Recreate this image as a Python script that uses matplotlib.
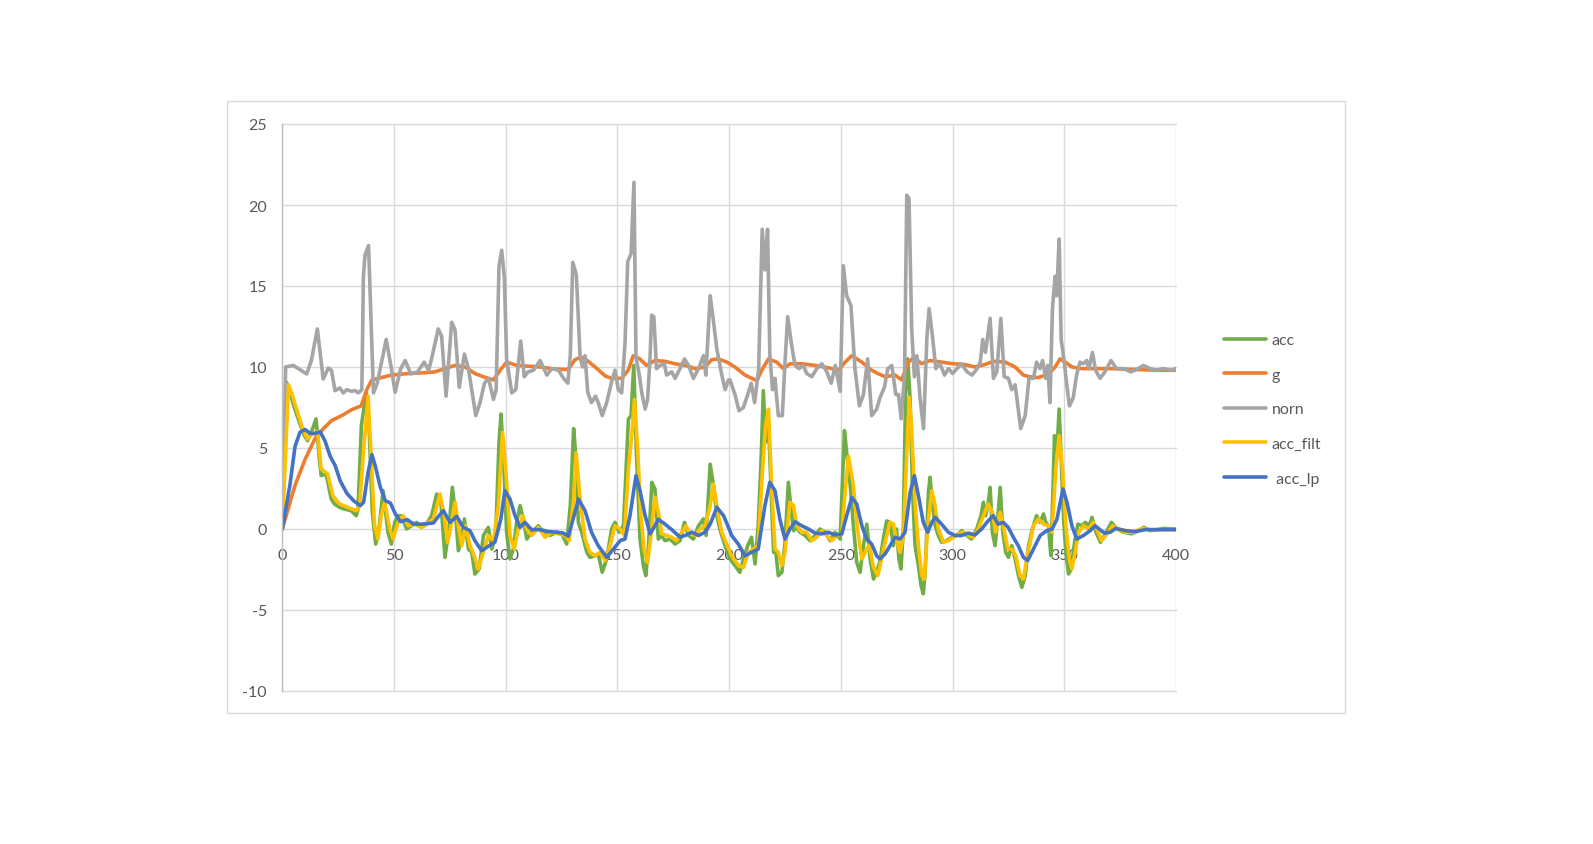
import matplotlib
matplotlib.use("Agg")
import matplotlib.pyplot as plt
from matplotlib.patches import Rectangle
import numpy as np

# Data

acc_pts = [
    (0, 0), (1.9, 9.05), (3.9, 8.2), (5.4, 7.5), (7.6, 6.6), (9.9, 5.76), (11.3, 5.45), (13.6, 6.2),
    (15.1, 6.8), (16.6, 4.3), (17.4, 3.3), (19.6, 3.4), (21.9, 1.85), (23.4, 1.54), (25.6, 1.34),
    (27.8, 1.23), (30.8, 1.13), (33.1, 0.82), (33.9, 1.23), (35.4, 6.4), (37.6, 8.44), (38.8, 6.4),
    (40.3, 1.03), (41.8, -0.93), (43.3, 0.0), (45.1, 2.37), (47.3, -0.2), (48.8, -0.93), (50.3, 0.4),
    (51.8, 0.82), (53.3, 0.82), (55.6, 0.0), (57.8, 0.2), (60.1, 0.41), (62.3, 0.1), (64.5, 0.3),
    (66.8, 0.82), (69.1, 2.16), (71, 1.65), (72.8, -1.75), (74.6, 0.0), (76.1, 2.57), (77.6, 0.82),
    (78.8, -1.34), (80.3, -0.62), (81.5, 0.62), (83.3, -1.24), (84.8, -1.44), (86.2, -2.78),
    (88.1, -2.47), (90, -0.4), (92.2, 0.1), (93.8, -1.24), (95.5, -0.4), (97, 5.35), (97.9, 7.1),
    (99.1, 4.1), (100.4, -0.2), (101.9, -1.85), (103.4, -1.24), (104.9, 0.41), (106.4, 1.44),
    (107.9, 0.62), (109.4, -0.62), (111.6, -0.2), (114.6, 0.2), (116.9, -0.2), (119.8, -0.4),
    (122.8, -0.2), (125.1, -0.3), (127.3, -0.93), (128.9, 1.44), (130.4, 6.2), (131.2, 4.8),
    (132.5, 0.41), (134, -0.2), (136.3, -1.44), (137.7, -1.75), (140, -1.65), (141.4, -1.54),
    (143.2, -2.67), (145.2, -1.85), (147.4, 0.0), (148.9, 0.41), (150.7, -0.2), (152.7, 0.2),
    (154.9, 6.79), (156.1, 7.0), (157.3, 10.1), (158.6, 4.3), (160.1, -0.62), (161.6, -2.26),
    (162.7, -2.88), (163.9, -1.03), (165.4, 2.88), (166.8, 2.47), (168.3, -0.62), (169.8, -0.4),
    (171.3, -0.72), (173.5, -0.62), (175.8, -0.93), (178, -0.72), (180, 0.41), (181.8, -0.4),
    (184, -0.62), (186.3, 0.2), (188.5, 0.62), (189.7, -0.4), (191.5, 4.0), (193, 2.67), (194.5, 0.82),
    (196, -0.1), (198.2, -1.03), (200.4, -1.85), (202.6, -2.26), (204.8, -2.67), (206.4, -1.85),
    (208.3, -1.03), (210, -0.51), (211.6, -2.16), (213, 0.2), (214.3, 4.3), (215.3, 8.54),
    (216.3, 5.35), (217.6, 6.6), (218.8, 2.26), (219.9, -1.44), (220.9, -1.44), (222, -2.88),
    (223.6, -2.67), (225, -0.82), (226.5, 2.88), (227.7, 1.23), (228.8, -0.1), (230.2, 0.1),
    (231.7, -0.2), (234, -0.4), (236.2, -0.72), (238.5, -0.4), (240.7, 0.0), (243, -0.2),
    (245.2, -0.72), (247.4, -0.2), (249.7, -0.62), (251.6, 6.07), (252.6, 4.73), (254.2, 2.67),
    (255.6, 0.2), (257.1, -2.06), (258.6, -2.67), (260.1, -1.03), (261.6, 0.3), (263.1, -1.85),
    (264.6, -3.09), (266, -2.67), (267.5, -2.0), (269, -0.62), (270.5, 0.5), (272, 0.41),
    (273.5, -1.03), (274.9, 0.0), (276, -1.85), (276.9, -2.47), (277.9, -0.2), (279, 8.44),
    (279.9, 10.5), (281, 8.0), (282, 2.67), (283.2, -1.03), (284.7, -2.26), (285.9, -3.5),
    (286.9, -4.0), (287.7, -2.67), (289.2, 2.26), (289.9, 3.19), (290.9, 1.65), (292.2, 0.2),
    (293.6, -0.4), (295.1, -0.82), (297.3, -0.72), (299.6, -0.51), (301.8, -0.4), (304.1, -0.1),
    (306.3, -0.4), (308.5, -0.62), (310.8, 0.0), (312.7, 0.82), (313.8, 1.65), (314.8, 0.82),
    (316, 1.65), (316.8, 2.57), (317.8, -0.2), (319, -1.03), (320.2, 0.62), (321.3, 2.57),
    (322.5, -0.2), (323.8, -1.44), (325, -1.75), (326.5, -1.03), (328, -1.85), (329.5, -2.88),
    (331, -3.6), (332.5, -2.88), (334, -1.03), (335.7, 0.0), (337.6, 0.82), (339.2, 0.41),
    (340.7, 0.93), (341.7, 0.41), (342.9, 0.2), (344, -1.65), (344.9, 2.26), (345.6, 5.76),
    (346.7, 4.73), (347.7, 7.4), (348.6, 4.3), (349.7, 0.62), (350.7, -1.44), (351.9, -2.78),
    (353.1, -2.47), (354.6, -0.82), (356.1, 0.3), (357.9, 0.2), (359.4, 0.41), (361.2, 0.2),
    (362.4, 0.72), (364.2, -0.2), (366.2, -0.82), (368.4, -0.3), (371.1, 0.41), (373.6, 0.0),
    (376.6, -0.2), (380, -0.3), (383.3, -0.1), (385.6, 0.1), (388.5, -0.1), (391.5, -0.04),
    (394.5, 0.04), (398.2, 0.0), (400, 0.0),
]

g_pts = [
    (0, 0), (5.7, 2.7), (10.2, 4.3), (14.7, 5.6), (18.4, 6.2), (22.1, 6.7), (26.6, 7.0), (31.1, 7.37),
    (35.3, 7.6), (37.8, 8.6), (40.1, 9.2), (44.6, 9.36), (49, 9.5), (56.5, 9.6), (63.9, 9.65),
    (68.3, 9.7), (72.8, 9.9), (77.3, 10.1), (81.8, 10.0), (86.2, 9.6), (90, 9.4), (94.5, 9.2),
    (97.5, 9.8), (100.4, 10.3), (104.9, 10.1), (110, 10.05), (115.4, 10.0), (120.6, 9.9),
    (125.1, 9.85), (128, 9.85), (131, 10.45), (133.5, 10.6), (135.5, 10.5), (140, 10.0),
    (144.5, 9.45), (147.4, 9.3), (151.9, 9.3), (154.8, 9.8), (157.1, 10.7), (160, 10.5), (163, 10.1),
    (166.8, 10.4), (171.3, 10.35), (175.8, 10.2), (180.3, 10.1), (184.8, 9.9), (189.2, 10.0),
    (192.2, 10.45), (195.2, 10.5), (199, 10.3), (202.6, 10.0), (207.1, 9.5), (212.4, 9.15),
    (214.6, 9.8), (217.6, 10.5), (221.3, 10.3), (224.3, 9.9), (227.3, 10.2), (232.5, 10.2),
    (238.5, 10.1), (244.4, 9.95), (248.9, 9.8), (251.9, 10.3), (254.9, 10.7), (259.4, 10.3),
    (263.8, 9.8), (266.5, 9.6), (269.8, 9.4), (274.3, 9.5), (277.2, 9.2), (280.2, 10.3),
    (282.9, 10.6), (286.1, 10.2), (289.9, 10.4), (295.1, 10.3), (300.3, 10.2), (305.5, 10.15),
    (310, 10.0), (314.4, 10.15), (318.3, 10.35), (323.5, 10.3), (328, 10.0), (331.7, 9.5),
    (334.2, 9.4), (338.3, 9.35), (342.9, 9.55), (345.9, 10.0), (348.1, 10.5), (350.4, 10.3),
    (353.4, 10.0), (357.9, 9.9), (363.8, 9.9), (371.3, 9.9), (380.2, 9.85), (392.2, 9.8), (400, 9.8),
]

norn_pts = [
    (0, 0), (1.5, 10.0), (4.9, 10.1), (10.9, 9.57), (13, 10.4), (15.7, 12.35), (18.3, 9.26),
    (20.6, 9.93), (22, 9.8), (23.6, 8.54), (25.8, 8.7), (27.3, 8.4), (28.8, 8.6), (31, 8.5),
    (32.5, 8.55), (34, 8.4), (35.6, 8.6), (36.3, 15.6), (37, 16.9), (38.6, 17.5), (40.8, 8.4),
    (42.5, 9.0), (44, 10.0), (46.5, 11.7), (48.7, 10.0), (50.5, 8.44), (53, 9.9), (55, 10.4),
    (57.5, 9.57), (60.5, 9.7), (63.5, 10.3), (65.5, 9.8), (66.8, 10.5), (69.8, 12.35), (71.3, 11.9),
    (73.3, 8.2), (75.8, 12.76), (77.3, 12.3), (79.2, 8.75), (81.5, 10.8), (83.3, 9.9), (86.6, 7.0),
    (88.5, 7.8), (90.5, 9.0), (92.3, 9.3), (94.5, 8.0), (95.7, 8.6), (97, 16.25), (98.2, 17.2),
    (99.4, 15.5), (100.4, 10.5), (102.7, 8.4), (104.5, 8.6), (106.7, 11.6), (108.3, 9.4), (110, 9.7),
    (112.4, 9.8), (115.4, 10.4), (118.4, 9.5), (120.6, 9.9), (123.6, 9.8), (125.9, 9.3), (127.8, 9.0),
    (128.9, 10.7), (130, 16.46), (131.6, 15.7), (133.3, 10.6), (134.4, 10.0), (135.5, 10.7),
    (136.7, 8.44), (138.4, 7.8), (140.2, 8.2), (141.4, 7.8), (143.2, 7.0), (145.2, 7.8), (147.4, 9.1),
    (148.9, 9.8), (150.4, 8.6), (151.9, 8.4), (153.4, 11.5), (154.6, 16.5), (156.1, 17.0),
    (157.4, 21.4), (158.3, 10.6), (159.8, 9.5), (160.9, 8.4), (162.4, 7.4), (163.5, 8.0),
    (164.6, 10.6), (165.3, 13.2), (166.3, 13.1), (167.5, 9.9), (169, 10.1), (171, 10.2), (172, 9.5),
    (174.3, 9.7), (175.8, 9.3), (178, 9.9), (180, 10.5), (181.8, 10.1), (184, 9.3), (186.3, 9.9),
    (188.5, 10.7), (189.6, 9.5), (191.5, 14.4), (193, 12.8), (194.5, 11.1), (196.7, 9.5), (198.2, 8.6),
    (199.7, 9.2), (200.4, 9.2), (202.6, 8.3), (204.4, 7.3), (206.4, 7.5), (208.3, 8.3), (209.9, 9.0),
    (211.4, 7.8), (213.2, 9.9), (214.8, 18.5), (216, 16.0), (217.2, 18.5), (218.2, 10.8),
    (219.4, 8.6), (220.5, 9.3), (222, 7.0), (223.8, 7.0), (225, 10.3), (226.2, 13.1), (228, 11.3),
    (229.5, 10.1), (231.3, 9.9), (233.2, 10.1), (234.7, 9.6), (237, 9.4), (239.2, 9.9), (241.5, 10.2),
    (243.7, 9.7), (245.7, 9.0), (247.5, 10.1), (249.7, 8.5), (251.1, 16.25), (252.6, 14.4),
    (254.5, 13.8), (256.3, 9.9), (258.3, 7.6), (260.1, 8.3), (262, 10.5), (263.8, 7.0), (266, 7.4),
    (267.5, 8.1), (269.5, 8.75), (271, 9.9), (272.8, 10.1), (274.6, 8.3), (275.8, 8.3), (277, 6.8),
    (278.5, 9.5), (279.5, 20.6), (280.5, 20.4), (281.7, 12.35), (282.9, 9.4), (284, 10.7),
    (285.5, 8.0), (287, 6.2), (288.5, 11.8), (289.5, 13.6), (291, 11.9), (292.5, 9.9), (294.4, 10.2),
    (296.4, 9.5), (298.2, 9.9), (300, 9.6), (302, 9.9), (303.9, 10.2), (306.5, 9.7), (308.7, 9.5),
    (311, 9.9), (312.4, 10.3), (313.5, 11.7), (314.7, 10.9), (315.5, 11.7), (316.8, 13.0),
    (318.3, 9.3), (319.8, 9.7), (321.6, 13.0), (323.1, 9.4), (325, 9.3), (326.5, 8.6), (328, 8.9),
    (330.5, 6.2), (332.5, 7.0), (334.2, 9.3), (336.2, 9.3), (337.6, 10.3), (339.1, 9.9),
    (340.3, 10.4), (341.7, 9.3), (342.6, 10.1), (343.6, 7.8), (344.7, 13.6), (345.9, 15.6),
    (346.6, 14.4), (347.7, 17.9), (348.6, 11.7), (350, 10.3), (351.1, 8.9), (352.3, 7.6), (354, 8.1),
    (355.5, 9.5), (357, 10.3), (358.5, 10.2), (360, 10.4), (361, 9.9), (362.6, 10.9), (364, 9.8),
    (366, 9.3), (368.2, 9.7), (370.9, 10.4), (373.4, 9.9), (376.4, 9.9), (379.8, 9.7), (383.1, 9.9),
    (385.4, 10.1), (388.4, 9.9), (391.3, 9.8), (394.3, 9.9), (398, 9.8), (400, 9.9),
]

acc_filt_pts = [
    (0, 0), (2.8, 8.9), (4.6, 8.2), (6.8, 7.2), (9.1, 6.2), (11.3, 5.55), (13.6, 5.9), (15.8, 6.0),
    (17.4, 3.7), (20.3, 3.4), (22.6, 2.06), (25.6, 1.54), (29.3, 1.34), (33.1, 1.13), (34.6, 1.44),
    (36.4, 4.9), (38.4, 8.2), (39.9, 4.1), (41.3, 0.2), (42.8, -0.62), (44.3, 0.82), (45.8, 1.65),
    (48.1, 0.0), (49.6, -0.62), (51.8, 0.41), (54.1, 0.82), (56.3, 0.2), (59.3, 0.3), (62.3, 0.1),
    (64.5, 0.3), (67.6, 0.62), (70.6, 2.16), (72.5, 0.82), (74, -0.82), (75.5, 0.2), (77.3, 1.65),
    (78.8, 0.2), (80.3, -1.03), (82.1, 0.2), (84, -1.03), (85.9, -1.65), (87.7, -2.47), (90, -1.44),
    (92.2, -0.4), (94.5, -0.72), (96.7, 1.44), (98.6, 5.97), (100.2, 3.29), (101.9, -0.4),
    (103.8, -1.24), (105.6, 0.0), (107.6, 0.82), (109.4, 0.0), (111.6, -0.4), (114.6, 0.1),
    (117.6, -0.51), (120.6, -0.2), (123.6, -0.3), (126.6, -0.4), (128.4, -0.72), (130.4, 1.85),
    (131.5, 4.7), (133.3, 1.85), (135.5, -0.62), (137.7, -1.44), (140, -1.65), (142.2, -1.44),
    (144.5, -1.95), (146.7, -1.03), (148.9, 0.2), (151.2, 0.0), (153.1, -0.4), (154.9, 3.7),
    (156.4, 5.76), (157.6, 8.0), (159, 5.1), (160.4, 1.03), (161.9, -1.24), (163.5, -2.06),
    (165, -0.4), (166.8, 1.95), (168.3, 1.03), (169.8, -0.3), (172, -0.4), (174.3, -0.51),
    (176.5, -0.72), (178.8, -0.2), (180.7, 0.2), (182.5, -0.3), (184.8, -0.4), (187, 0.0),
    (189.2, 0.2), (191.5, 1.44), (193, 2.78), (194.9, 1.03), (196.7, -0.2), (198.5, -0.8),
    (201.1, -1.65), (204.1, -2.26), (206.4, -2.37), (208.6, -1.44), (210.9, -1.24), (213, -1.03),
    (214.8, 3.29), (216.3, 6.38), (217.6, 7.4), (219, 2.67), (220.5, -1.24), (222, -1.44),
    (223.6, -2.26), (225, -1.44), (227.2, 1.65), (228.8, 1.44), (230.2, 0.2), (232.5, -0.2),
    (234.7, -0.2), (237, -0.72), (239.2, -0.51), (241.5, -0.1), (243.7, -0.4), (245.9, -0.72),
    (248.2, -0.4), (250.4, -0.3), (251.9, 2.26), (253.4, 4.5), (255.6, 2.67), (257.6, -0.2),
    (259.4, -1.85), (260.9, -1.44), (262.7, -0.93), (264.6, -2.37), (266.5, -2.88), (267.5, -2.3),
    (269.8, -0.82), (272, 0.41), (273.5, 0.3), (274.9, -0.72), (276.5, -1.44), (278, -0.4),
    (279.4, 4.3), (280.6, 8.13), (281.6, 6.4), (283.2, 1.65), (284.7, -1.03), (286.2, -2.88),
    (287.4, -3.09), (288.9, 0.2), (290.7, 2.37), (292.2, 1.44), (293.6, 0.0), (295.9, -0.82),
    (298.1, -0.72), (300.3, -0.51), (302.6, -0.3), (304.8, -0.2), (307, -0.4), (309.3, -0.51),
    (311.5, 0.0), (313.8, 0.82), (316, 1.54), (317.8, 1.03), (319.3, -0.2), (321.3, 1.03),
    (322.7, 0.2), (324.7, -1.24), (326.5, -1.24), (328.3, -1.65), (330.2, -2.88), (331.7, -3.09),
    (333.2, -1.85), (334.4, -1.03), (336.2, 0.2), (338.4, 0.62), (340.7, 0.3), (342.9, 0.2),
    (344.5, -0.2), (346.2, 3.7), (347.7, 5.76), (349.2, 3.7), (350.7, 0.2), (352.2, -1.85),
    (353.4, -2.47), (354.9, -1.44), (356.4, -0.2), (358.6, 0.2), (360.9, 0.0), (362.9, 0.41),
    (364.6, 0.0), (366.6, -0.72), (369.1, -0.3), (371.7, 0.2), (374.3, -0.04), (377.3, -0.2),
    (381, -0.2), (384.8, 0.04), (388.5, -0.04), (393.8, -0.04), (400, -0.04),
]

acc_lp_pts = [
    (0, 0), (3.4, 2.7), (5.7, 5.1), (7.9, 5.97), (10.2, 6.14), (12.4, 5.9), (14.7, 5.9), (17, 6.0),
    (19.2, 5.4), (21.4, 4.5), (23.7, 3.9), (25.9, 2.98), (28.9, 2.2), (31.9, 1.75), (34.9, 1.44),
    (36.4, 1.65), (38.4, 3.5), (40.1, 4.6), (41.6, 3.9), (43.9, 2.57), (46.1, 1.75), (48.4, 1.6),
    (50.6, 0.93), (52.9, 0.45), (55.9, 0.58), (58.8, 0.3), (62.6, 0.3), (65.9, 0.35), (67.6, 0.37),
    (70, 0.8), (72.1, 1.13), (75.1, 0.41), (78.1, 0.78), (81, 0.1), (84, -0.1), (86.2, -0.72),
    (89.2, -1.34), (92.2, -1.07), (95.2, -0.8), (97.8, 0.6), (99.6, 2.37), (101.9, 1.85),
    (104.2, 0.8), (106.4, 0.1), (108.6, 0.41), (111.6, -0.04), (115.4, -0.04), (119.1, -0.16),
    (122.8, -0.2), (125.8, -0.25), (128, -0.45), (131, 1.03), (132.5, 1.85), (135.5, 1.13),
    (138.4, -0.2), (141.4, -1.03), (145.2, -1.75), (148.2, -1.24), (151.2, -0.72), (153.4, -0.62),
    (155.6, 0.82), (158.3, 3.29), (160.1, 2.37), (162.4, 0.82), (164.6, -0.3), (166.8, 0.2),
    (168.3, 0.6), (171.3, 0.3), (174.3, -0.04), (178, -0.5), (180.3, -0.4), (183.3, -0.2),
    (186.3, -0.4), (189.2, -0.2), (191.5, 0.3), (194.5, 1.34), (197.5, 0.82), (200, 0.0),
    (201.1, -0.4), (204.1, -0.93), (207.1, -1.65), (210, -1.44), (213, -1.24), (216, 1.44),
    (218.2, 2.88), (220.5, 2.37), (222.7, 0.6), (225, -0.62), (227.2, 0.0), (229.5, 0.45),
    (232.5, 0.2), (235.5, 0.0), (238.5, -0.25), (241.5, -0.3), (244.4, -0.2), (247.4, -0.37),
    (250.4, -0.3), (252.6, 0.82), (254.9, 1.95), (257.1, 1.54), (259.4, 0.2), (261.6, -0.62),
    (263.8, -0.93), (266, -1.65), (267.5, -1.85), (269.8, -1.54), (272, -1.03), (274.3, -0.51),
    (276.5, -0.62), (278.7, -0.2), (281, 2.26), (282.9, 3.29), (284.7, 2.06), (286.9, 0.41),
    (288.9, -0.2), (290.7, 0.41), (292.2, 0.72), (295.1, 0.3), (298.1, -0.2), (301.1, -0.4),
    (304, -0.4), (307, -0.25), (310, -0.37), (313, 0.0), (315.9, 0.5), (318.2, 0.82), (320.4, 0.3),
    (322.7, 0.41), (324.9, 0.1), (327.2, -0.51), (329.4, -1.03), (331.7, -1.75), (333.6, -1.95),
    (336.2, -1.24), (339.2, -0.4), (342.2, -0.1), (344.5, 0.0), (346.7, 0.6), (349.4, 2.47),
    (351.2, 1.65), (353.4, 0.2), (355.6, -0.62), (358.6, -0.4), (361.6, -0.1), (363.8, 0.2),
    (365.6, 0.0), (368, -0.25), (370.6, -0.2), (373.1, 0.04), (377.3, -0.1), (381.8, -0.16),
    (386.3, -0.04), (392.2, -0.04), (400, -0.04),
]

series_names = ["acc", "g", "norn", "acc_filt", " acc_lp"]
series_colors = ["#70AD47", "#ED7D31", "#A5A5A5", "#FFC000", "#4472C4"]
series_data = [acc_pts, g_pts, norn_pts, acc_filt_pts, acc_lp_pts]

x_ticks = np.arange(0, 401, 50)
y_ticks = np.arange(-10, 26, 5)

# Figur

plt.rcParams["font.family"] = ["Lato", "DejaVu Sans"]
fig = plt.figure(figsize=(15.93, 8.45), dpi=100, facecolor="white")

# kant rundt om diagrammet
fig.patches.append(Rectangle((226.5 / 1593, 1 - 714 / 845), (1345 - 226.5) / 1593, (714 - 101.6) / 845,
                             transform=fig.transFigure, fill=False, edgecolor="#D9D9D9", linewidth=1.0))

ax = fig.add_axes([282.3 / 1593, 1 - 692 / 845, (1176 - 282.3) / 1593, (692 - 125) / 845])
ax.set_facecolor("white")

for name, color, pts in zip(series_names, series_colors, series_data):
    xs, ys = zip(*pts)
    ax.plot(xs, ys, color=color, linewidth=2.6, label=name,
            solid_joinstyle="round", solid_capstyle="round")

ax.set_xlim(0, 400)
ax.set_ylim(-10, 25)
ax.set_xticks(x_ticks)
ax.set_yticks(y_ticks)
ax.grid(True, color="#D9D9D9", linewidth=1.0)
ax.set_axisbelow(True)
for gl in ax.get_xgridlines() + ax.get_ygridlines():
    gl.set_clip_on(False)  # kantlinjerne ved 400, 25 og -10 skal ikke halveres

for side in ["top", "right"]:
    ax.spines[side].set_visible(False)
ax.spines["left"].set_color("#BFBFBF")
ax.spines["left"].set_linewidth(1.0)
ax.spines["bottom"].set_position(("data", 0))
ax.spines["bottom"].set_color("none")

ax.tick_params(axis="both", length=0, labelsize=11.5, labelcolor="#595959")
ax.tick_params(axis="y", pad=11)
ax.tick_params(axis="x", pad=14)
ax.set_xticklabels([str(v) for v in x_ticks])
ax.set_yticklabels([str(v) for v in y_ticks])

leg = fig.legend(loc="upper left", bbox_to_anchor=(1224 / 1593, 1 - 334 / 845),
                 frameon=False, fontsize=11.5, borderpad=0, borderaxespad=0,
                 handlelength=2.65, handletextpad=0.35, labelspacing=1.28)
for t in leg.get_texts():
    t.set_color("#595959")

fig.savefig("out.png", dpi=100, facecolor="white")
